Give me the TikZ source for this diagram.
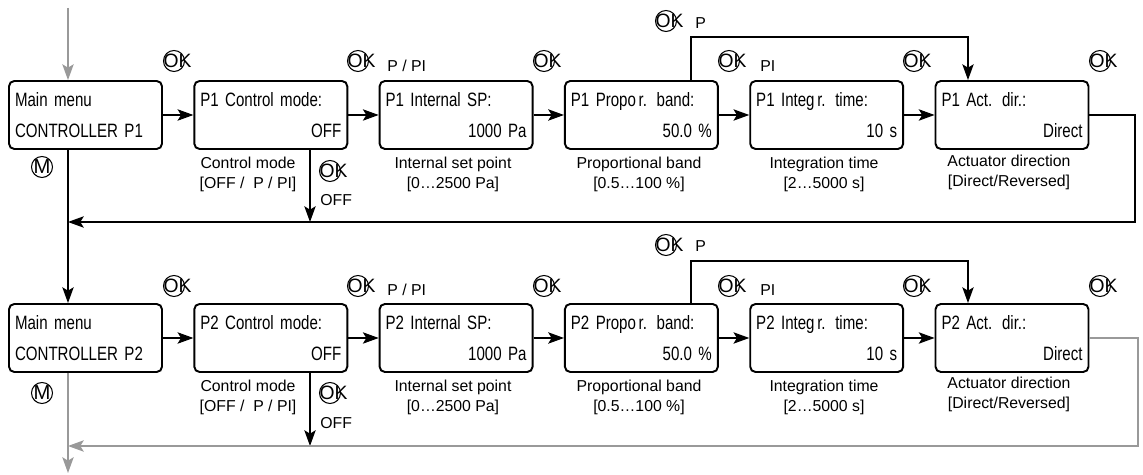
\documentclass[tikz,border=0pt]{standalone}
\usepackage{fontspec}
\setmainfont{Liberation Sans}
\newfontfamily\narrowfont{Liberation Sans}[FakeStretch=0.78]
\usetikzlibrary{arrows.meta}
\tikzset{
	menubox/.style={draw, line width=1.1pt, rounded corners=3pt, minimum width=3.06cm, minimum height=1.36cm,
		inner xsep=0.12cm, text width=2.82cm, align=left, font=\narrowfont\fontsize{11}{18}\selectfont},
	okbtn/.style={circle, draw, line width=0.6pt, minimum size=0.42cm, inner sep=0pt,
		label={[font=\fontsize{11}{12}\selectfont, inner sep=0pt, xshift=0.07cm]center:OK}},
	mbtn/.style={circle, draw, line width=0.6pt, minimum size=0.42cm, inner sep=0pt,
		label={[font=\fontsize{11.5}{12}\selectfont, inner sep=0pt]center:M}},
	caption/.style={anchor=north, align=center, inner sep=0pt, font=\fontsize{9}{11.3}\selectfont},
	keylabel/.style={anchor=west, inner sep=0pt, font=\fontsize{9}{11}\selectfont},
	flow/.style={line width=0.6pt, -{Stealth[length=9pt, width=6.5pt, inset=2pt]}},
	flowgray/.style={flow, color=black!40},
}
\newcommand{\val}[1]{\leavevmode\hfill #1}

\begin{document}
\begin{tikzpicture}[x=0.02cm, y=-0.02cm]
		%%%%% START %%%%%
		\useasboundingbox (0, 0) rectangle (1143, 475);
		
		\coordinate (in1) at (68, 8);
		
		% controller P1
		\node[menubox] (r1b1) at (85.5, 115) {Main menu\\CONTROLLER P1};
		\node[menubox] (r1b2) at (270.8, 115) {P1 Control mode:\\\val{OFF}};
		\node[menubox] (r1b3) at (456.1, 115) {P1 Internal SP:\\\val{1000 Pa}};
		\node[menubox] (r1b4) at (641.4, 115) {P1 Propo\kern1.5pt r. band:\\\val{50.0 \%}};
		\node[menubox] (r1b5) at (826.7, 115) {P1 Integ\kern1.5pt r. time:\\\val{10 s}};
		\node[menubox] (r1b6) at (1012, 115) {P1 Act. dir.:\\\val{Direct}};
		
		\node[okbtn] (r1ok1) at (174, 61) {};
		\node[okbtn] (r1ok2) at (358, 61) {};
		\node[okbtn] (r1ok3) at (544, 61) {};
		\node[okbtn] (r1ok4) at (729, 61) {};
		\node[okbtn] (r1ok5) at (914, 61) {};
		\node[okbtn] (r1ok6) at (1100, 61) {};
		\node[okbtn] (r1okp) at (666, 21) {};
		\node[okbtn] (r1okoff) at (330, 171) {};
		\node[mbtn] (r1m) at (42, 167) {};
		
		\node[keylabel] (r1kpp) at (387, 66) {P / PI};
		\node[keylabel] (r1kp) at (695, 23) {P};
		\node[keylabel] (r1kpi) at (760, 66) {PI};
		\node[keylabel] (r1koff) at (320, 200) {OFF};
		
		\node[caption] (r1c2) at (248, 157) {Control mode\\{[}OFF /\ \ P / PI{]}};
		\node[caption] (r1c3) at (453, 157) {Internal set point\\{[}0…2500 Pa{]}};
		\node[caption] (r1c4) at (639, 157) {Proportional band\\{[}0.5…100 \%{]}};
		\node[caption] (r1c5) at (824, 157) {Integration time\\{[}2…5000 s{]}};
		\node[caption] (r1c6) at (1009, 155) {Actuator direction\\{[}Direct/Reversed{]}};
		
		\coordinate (p1a) at (691, 37);
		\coordinate (p1b) at (968, 37);
		\coordinate (off1) at (310, 222);
		\coordinate (ret1) at (1135, 222);
		
		\draw[flowgray] (in1) -- (in1 |- r1b1.north);
		\draw[flow] (r1b1) -- (r1b2);
		\draw[flow] (r1b2) -- (r1b3);
		\draw[flow] (r1b3) -- (r1b4);
		\draw[flow] (r1b4) -- (r1b5);
		\draw[flow] (r1b5) -- (r1b6);
		\draw[flow] (r1b4.north -| p1a) -- (p1a) -- (p1b) -- (p1b |- r1b6.north);
		\draw[flow] (r1b2.south -| off1) -- (off1);
		\draw[flow] (r1b6.east) -| (ret1) -- (ret1 -| in1);
		
		% controller P2
		\node[menubox] (r2b1) at (85.5, 338) {Main menu\\CONTROLLER P2};
		\node[menubox] (r2b2) at (270.8, 338) {P2 Control mode:\\\val{OFF}};
		\node[menubox] (r2b3) at (456.1, 338) {P2 Internal SP:\\\val{1000 Pa}};
		\node[menubox] (r2b4) at (641.4, 338) {P2 Propo\kern1.5pt r. band:\\\val{50.0 \%}};
		\node[menubox] (r2b5) at (826.7, 338) {P2 Integ\kern1.5pt r. time:\\\val{10 s}};
		\node[menubox] (r2b6) at (1012, 338) {P2 Act. dir.:\\\val{Direct}};
		
		\node[okbtn] (r2ok1) at (174, 286) {};
		\node[okbtn] (r2ok2) at (358, 286) {};
		\node[okbtn] (r2ok3) at (544, 286) {};
		\node[okbtn] (r2ok4) at (729, 286) {};
		\node[okbtn] (r2ok5) at (914, 286) {};
		\node[okbtn] (r2ok6) at (1100, 286) {};
		\node[okbtn] (r2okp) at (666, 245) {};
		\node[okbtn] (r2okoff) at (330, 393) {};
		\node[mbtn] (r2m) at (42, 393) {};
		
		\node[keylabel] (r2kpp) at (387, 290) {P / PI};
		\node[keylabel] (r2kp) at (695, 246) {P};
		\node[keylabel] (r2kpi) at (760, 290) {PI};
		\node[keylabel] (r2koff) at (320, 423) {OFF};
		
		\node[caption] (r2c2) at (248, 380) {Control mode\\{[}OFF /\ \ P / PI{]}};
		\node[caption] (r2c3) at (453, 380) {Internal set point\\{[}0…2500 Pa{]}};
		\node[caption] (r2c4) at (639, 380) {Proportional band\\{[}0.5…100 \%{]}};
		\node[caption] (r2c5) at (824, 380) {Integration time\\{[}2…5000 s{]}};
		\node[caption] (r2c6) at (1009, 377) {Actuator direction\\{[}Direct/Reversed{]}};
		
		\coordinate (p2a) at (691, 261);
		\coordinate (p2b) at (968, 261);
		\coordinate (off2) at (310, 446);
		\coordinate (ret2) at (1138, 446);
		\coordinate (out2) at (68, 473);
		
		\draw[flow] (r1b1.south -| in1) -- (in1 |- r2b1.north);
		\draw[flow] (r2b1) -- (r2b2);
		\draw[flow] (r2b2) -- (r2b3);
		\draw[flow] (r2b3) -- (r2b4);
		\draw[flow] (r2b4) -- (r2b5);
		\draw[flow] (r2b5) -- (r2b6);
		\draw[flow] (r2b4.north -| p2a) -- (p2a) -- (p2b) -- (p2b |- r2b6.north);
		\draw[flow] (r2b2.south -| off2) -- (off2);
		\draw[flowgray] (r2b6.east) -| (ret2) -- (ret2 -| in1);
		\draw[flowgray] (r2b1.south -| in1) -- (out2);
		
		%%%%% END %%%%%
	\end{tikzpicture}
\end{document}
